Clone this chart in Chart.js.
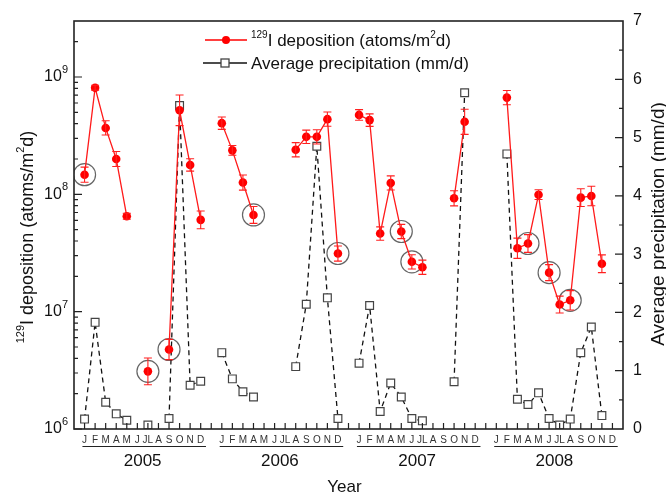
<!DOCTYPE html>
<html>
<head>
<meta charset="utf-8">
<script src="https://cdn.jsdelivr.net/npm/chart.js@4.4.1/dist/chart.umd.min.js"></script>
<style>
  html, body { margin: 0; padding: 0; background: #fff; }
</style>
</head>
<body>
<canvas id="chart" width="666" height="497"></canvas>
<script>
const years = ['2005', '2006', '2007', '2008'];
const months = ['J', 'F', 'M', 'A', 'M', 'J', 'JL', 'A', 'S', 'O', 'N', 'D'];

// 129I deposition (atoms/m2 d), J..D, null = no sample
const dep2005 = [1.47e8, 8.1e8, 3.68e8, 2.0e8, 6.5e7, null, 3.1e6, null, 4.76e6, 5.2e8, 1.78e8, 6.06e7];
const dep2006 = [4.04e8, 2.37e8, 1.26e8, 6.67e7, null, null, null, 2.4e8, 3.09e8, 3.09e8, 4.37e8, 3.13e7];
const dep2007 = [4.75e8, 4.29e8, 4.63e7, 1.25e8, 4.82e7, 2.66e7, 2.39e7, null, null, 9.25e7, 4.15e8, null];
const dep2008 = [null, 6.67e8, 3.47e7, 3.81e7, 9.93e7, 2.15e7, 1.15e7, 1.25e7, 9.37e7, 9.68e7, 2.56e7, null];

// relative uncertainty of deposition (fraction)
const err2005 = [0.16, 0.05, 0.15, 0.16, 0.06, null, 0.3, null, 0.22, 0.35, 0.13, 0.19];
const err2006 = [0.13, 0.1, 0.16, 0.18, null, null, null, 0.15, 0.14, 0.15, 0.15, 0.16];
const err2007 = [0.11, 0.13, 0.14, 0.15, 0.15, 0.15, 0.15, null, null, 0.16, 0.28, null];
const err2008 = [null, 0.15, 0.22, 0.19, 0.1, 0.17, 0.18, 0.21, 0.19, 0.21, 0.19, null];

// average precipitation (mm/d)
const prec2005 = [0.17, 1.83, 0.46, 0.26, 0.15, null, 0.07, null, 0.18, 5.55, 0.75, 0.82];
const prec2006 = [1.31, 0.86, 0.64, 0.55, null, null, null, 1.07, 2.14, 4.85, 2.25, 0.18];
const prec2007 = [1.13, 2.12, 0.30, 0.79, 0.55, 0.18, 0.14, null, null, 0.81, 5.77, null];
const prec2008 = [null, 4.72, 0.51, 0.42, 0.62, 0.18, 0.07, 0.17, 1.31, 1.75, 0.23, null];

// circled samples: month indexes per year
const circled2005 = [0, 6, 8];
const circled2006 = [3, 11];
const circled2007 = [4, 5];
const circled2008 = [3, 5, 7];

const depByYear = [dep2005, dep2006, dep2007, dep2008];
const errByYear = [err2005, err2006, err2007, err2008];
const precByYear = [prec2005, prec2006, prec2007, prec2008];
const circledByYear = [circled2005, circled2006, circled2007, circled2008];

// each year takes 12 month slots plus one empty slot
const slot = (yi, mi) => yi * 13 + mi + 1;

function toPoints(byYear) {
  const pts = [];
  byYear.forEach((arr, yi) => {
    arr.forEach((v, mi) => pts.push({ x: slot(yi, mi), y: v }));
    if (yi < byYear.length - 1) pts.push({ x: slot(yi, 12), y: null });
  });
  return pts;
}

const depPoints = toPoints(depByYear);
const precPoints = toPoints(precByYear);
const circlePoints = [];
circledByYear.forEach((list, yi) => list.forEach(mi => circlePoints.push({ x: slot(yi, mi), y: depByYear[yi][mi] })));

const FONT = '"Liberation Sans", Arial, sans-serif';

function richWidth(ctx, parts, size, supSize) {
  let w = 0;
  parts.forEach(p => {
    ctx.font = (p.sup ? supSize : size) + 'px ' + FONT;
    w += ctx.measureText(p.t).width;
  });
  return w;
}

function drawRich(ctx, parts, x, y, size, supSize, rise) {
  let cx = x;
  parts.forEach(p => {
    ctx.font = (p.sup ? supSize : size) + 'px ' + FONT;
    ctx.fillText(p.t, cx, p.sup ? y - rise : y);
    cx += ctx.measureText(p.t).width;
  });
}

const errorBars = {
  id: 'errorBars',
  afterDatasetsDraw(chart) {
    const { ctx, scales: { x, y } } = chart;
    ctx.save();
    ctx.strokeStyle = '#ff2020';
    ctx.lineWidth = 1.1;
    depByYear.forEach((arr, yi) => arr.forEach((v, mi) => {
      const e = errByYear[yi][mi];
      if (v == null || e == null) return;
      const px = x.getPixelForValue(slot(yi, mi));
      const hi = y.getPixelForValue(v * (1 + e));
      const lo = y.getPixelForValue(v / (1 + e));
      ctx.beginPath();
      ctx.moveTo(px, hi); ctx.lineTo(px, lo);
      ctx.moveTo(px - 4, hi); ctx.lineTo(px + 4, hi);
      ctx.moveTo(px - 4, lo); ctx.lineTo(px + 4, lo);
      ctx.stroke();
    }));
    ctx.restore();
  }
};

const decor = {
  id: 'decor',
  afterDraw(chart) {
    const { ctx, chartArea: a, scales: { x, y, y2 } } = chart;
    ctx.save();
    ctx.strokeStyle = '#222';
    ctx.fillStyle = '#111';
    ctx.lineWidth = 1.6;
    ctx.strokeRect(a.left, a.top, a.right - a.left, a.bottom - a.top);

    ctx.lineWidth = 1.2;
    ctx.beginPath();
    // left log ticks
    for (let e = 6; e <= 9; e++) {
      for (let m = 1; m <= 9; m++) {
        const v = m * Math.pow(10, e);
        if (v >= y.max) break;
        const py = y.getPixelForValue(v);
        ctx.moveTo(a.left, py); ctx.lineTo(a.left + (m === 1 ? 8 : 4), py);
      }
    }
    // right linear ticks
    for (let v = 0.5; v < 7; v += 0.5) {
      const py = y2.getPixelForValue(v);
      ctx.moveTo(a.right, py); ctx.lineTo(a.right - (v % 1 === 0 ? 8 : 4), py);
    }
    // bottom month ticks
    for (let s = 1; s < 52; s++) {
      const px = x.getPixelForValue(s);
      ctx.moveTo(px, a.bottom); ctx.lineTo(px, a.bottom - 6);
    }
    ctx.stroke();

    // left tick labels 10^n
    ctx.textBaseline = 'middle';
    for (let e = 6; e <= 9; e++) {
      const py = y.getPixelForValue(Math.pow(10, e));
      ctx.font = '11px ' + FONT;
      const sw = ctx.measureText(String(e)).width;
      ctx.textAlign = 'left';
      ctx.fillText(String(e), a.left - 6 - sw, py - 7);
      ctx.font = '16px ' + FONT;
      ctx.textAlign = 'right';
      ctx.fillText('10', a.left - 6 - sw, py);
    }

    // year underlines and labels
    ctx.lineWidth = 1.2;
    ctx.beginPath();
    years.forEach((yr, yi) => {
      const x0 = x.getPixelForValue(slot(yi, 0) - 0.2);
      const x1 = x.getPixelForValue(slot(yi, 11) + 0.5);
      ctx.moveTo(x0, 446.5); ctx.lineTo(x1, 446.5);
    });
    ctx.stroke();
    ctx.textAlign = 'center';
    ctx.font = '17px ' + FONT;
    years.forEach((yr, yi) => {
      ctx.fillText(yr, x.getPixelForValue(slot(yi, 5.5)), 461);
    });
    ctx.fillText('Year', (a.left + a.right) / 2 - 4, 487);

    // left axis title
    const leftTitle = [{ t: '129', sup: true }, { t: 'I deposition (atoms/m' }, { t: '2', sup: true }, { t: 'd)' }];
    ctx.save();
    ctx.translate(28, 237);
    ctx.rotate(-Math.PI / 2);
    ctx.textAlign = 'left';
    const lw = richWidth(ctx, leftTitle, 18, 11);
    drawRich(ctx, leftTitle, -lw / 2, 0, 18, 11, 7);
    ctx.restore();

    // right axis title
    ctx.save();
    ctx.translate(659, 224);
    ctx.rotate(-Math.PI / 2);
    ctx.textAlign = 'center';
    ctx.font = '19px ' + FONT;
    ctx.fillText('Average precipitation (mm/d)', 0, 0);
    ctx.restore();

    // legend
    ctx.textAlign = 'left';
    ctx.strokeStyle = '#ff0000';
    ctx.lineWidth = 1.3;
    ctx.beginPath(); ctx.moveTo(205, 40); ctx.lineTo(247, 40); ctx.stroke();
    ctx.fillStyle = '#ff0000';
    ctx.beginPath(); ctx.arc(226, 40, 4, 0, Math.PI * 2); ctx.fill();
    ctx.fillStyle = '#111';
    drawRich(ctx, [{ t: '129', sup: true }, { t: 'I deposition (atoms/m' }, { t: '2', sup: true }, { t: 'd)' }], 251, 41, 17, 10, 6);
    ctx.strokeStyle = '#111';
    ctx.beginPath(); ctx.moveTo(203, 63); ctx.lineTo(247, 63); ctx.stroke();
    ctx.fillStyle = '#fff';
    ctx.fillRect(221, 59, 8, 8);
    ctx.strokeStyle = '#444';
    ctx.strokeRect(221, 59, 8, 8);
    ctx.fillStyle = '#111';
    ctx.font = '17px ' + FONT;
    ctx.fillText('Average precipitation (mm/d)', 251, 64);
    ctx.restore();
  }
};

new Chart(document.getElementById('chart'), {
  type: 'line',
  data: {
    datasets: [
      {
        label: '129I deposition (atoms/m2d)',
        data: depPoints,
        yAxisID: 'y',
        borderColor: '#ff1a1a',
        backgroundColor: '#ff0000',
        borderWidth: 1.3,
        pointRadius: 4.3,
        pointBorderWidth: 0,
        pointBackgroundColor: '#ff0000',
        spanGaps: false
      },
      {
        label: 'Average precipitation (mm/d)',
        data: precPoints,
        yAxisID: 'y2',
        borderColor: '#111',
        borderWidth: 1.3,
        borderDash: [5, 4],
        pointStyle: 'rect',
        pointRadius: 5.5,
        pointBorderWidth: 1.2,
        pointBorderColor: '#444',
        pointBackgroundColor: '#fff',
        spanGaps: false
      },
      {
        label: 'circled',
        data: circlePoints,
        yAxisID: 'y',
        showLine: false,
        pointRadius: 11,
        pointBorderWidth: 1.2,
        pointBorderColor: '#666',
        pointBackgroundColor: 'rgba(0,0,0,0)'
      }
    ]
  },
  options: {
    responsive: false,
    animation: false,
    devicePixelRatio: 1,
    layout: { padding: { top: 21, left: 0, right: 0, bottom: 0 } },
    plugins: { legend: { display: false }, tooltip: { enabled: false } },
    scales: {
      x: {
        type: 'linear',
        min: 0,
        max: 52,
        grid: { display: false, drawTicks: false },
        border: { display: false },
        afterBuildTicks: s => { s.ticks = []; for (let i = 0; i <= 52; i++) s.ticks.push({ value: i }); },
        afterFit: s => { s.height = 68; },
        ticks: {
          autoSkip: false,
          maxRotation: 0,
          padding: 5,
          color: '#333',
          font: { family: FONT, size: 10 },
          callback: v => {
            const k = v - 1;
            if (k < 0 || k % 13 === 12) return '';
            return months[k % 13] || '';
          }
        }
      },
      y: {
        type: 'logarithmic',
        position: 'left',
        min: 1e6,
        max: 3e9,
        grid: { display: false, drawTicks: false },
        border: { display: false },
        ticks: { display: false },
        afterFit: s => { s.width = 74; }
      },
      y2: {
        type: 'linear',
        position: 'right',
        min: 0,
        max: 7,
        grid: { display: false, drawTicks: false },
        border: { display: false },
        ticks: { stepSize: 1, padding: 10, color: '#111', font: { family: FONT, size: 16 } },
        afterFit: s => { s.width = 43; }
      }
    }
  },
  plugins: [errorBars, decor]
});
</script>
</body>
</html>
